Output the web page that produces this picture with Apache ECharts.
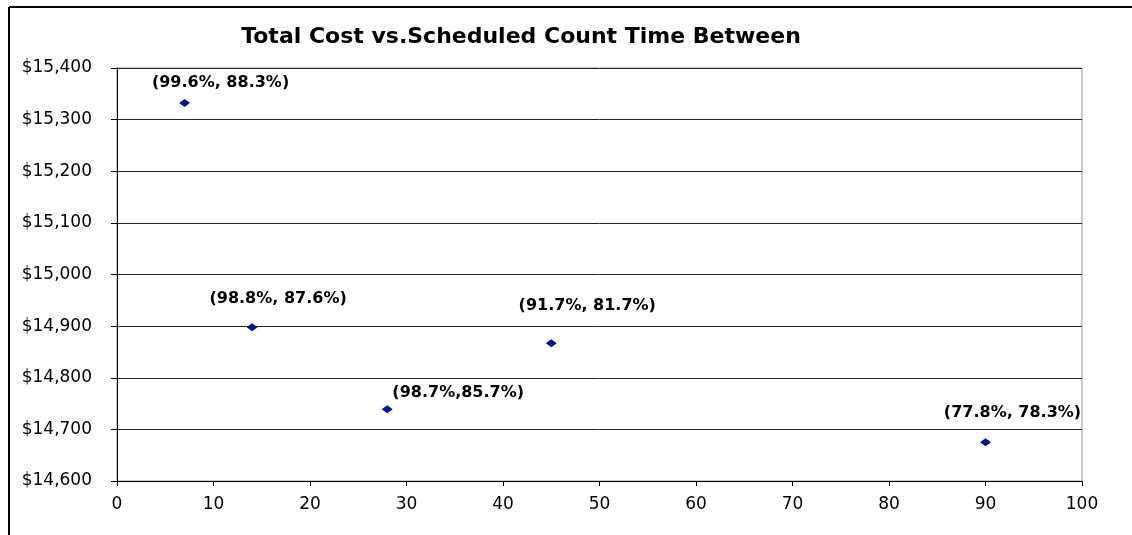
<!DOCTYPE html>
<html>
<head>
<meta charset="utf-8">
<script src="https://cdn.jsdelivr.net/npm/echarts@6/dist/echarts.min.js"></script>
<style>
  html, body { margin: 0; padding: 0; background: #fff; }
  #chart { width: 1132px; height: 535px; }
</style>
</head>
<body>
<div id="chart"></div>
<script>
// data
const countTimes = [7, 14, 28, 45, 90];
const totalCosts = [15332, 14898, 14739, 14867, 14675];
const pointLabels = ['(99.6%, 88.3%)', '(98.8%, 87.6%)', '(98.7%,85.7%)', '(91.7%, 81.7%)', '(77.8%, 78.3%)'];

// where each label sits relative to its point
const labelOffsets = [[36, -20], [26, -28], [71, -16], [36, -37], [27, -29]];

let myChart = echarts.init(document.getElementById('chart'));
let font = '"DejaVu Sans", Verdana, sans-serif';

myChart.setOption({
    backgroundColor: '#fff',
    animation: false,
    title: {
        text: 'Total Cost vs.Scheduled Count Time Between',
        left: 516,
        top: 21,
        textAlign: 'center',
        textStyle: { fontFamily: font, fontSize: 22, fontWeight: 'bold', color: '#000' }
    },
    grid: {
        left: 117, right: 50, top: 68, bottom: 54,
        show: true, borderColor: '#999', borderWidth: 1
    },
    xAxis: {
        type: 'value',
        min: 0, max: 100, interval: 10,
        axisLine: { lineStyle: { color: '#000', width: 1 } },
        axisTick: { show: true, length: 5, lineStyle: { color: '#000' } },
        axisLabel: { fontFamily: font, fontSize: 17, color: '#000', margin: 15 },
        splitLine: { show: false }
    },
    yAxis: {
        type: 'value',
        min: 14600, max: 15400, interval: 100,
        axisLine: { show: true, lineStyle: { color: '#000', width: 1 } },
        axisTick: { show: true, length: 6, lineStyle: { color: '#000' } },
        axisLabel: {
            fontFamily: font, fontSize: 17, color: '#000', margin: 25,
            formatter: v => '$' + v.toLocaleString('en-US')
        },
        splitLine: { show: true, lineStyle: { color: '#222', width: 1 } }
    },
    graphic: [
        { type: 'line', shape: { x1: 9, y1: 7, x2: 9, y2: 535 }, style: { stroke: '#000', lineWidth: 2 } },
        { type: 'line', shape: { x1: 9, y1: 7, x2: 1132, y2: 7 }, style: { stroke: '#000', lineWidth: 2 } }
    ],
    series: [{
        type: 'scatter',
        symbol: 'diamond',
        symbolSize: [11, 8],
        itemStyle: { color: '#00128c', opacity: 1 },
        data: countTimes.map((x, i) => ({
            value: [x, totalCosts[i]],
            label: {
                show: true,
                formatter: pointLabels[i],
                position: 'inside',
                offset: labelOffsets[i],
                textBorderWidth: 0,
                fontFamily: font, fontSize: 16, fontWeight: 'bold', color: '#000'
            }
        }))
    }]
});
</script>
</body>
</html>
